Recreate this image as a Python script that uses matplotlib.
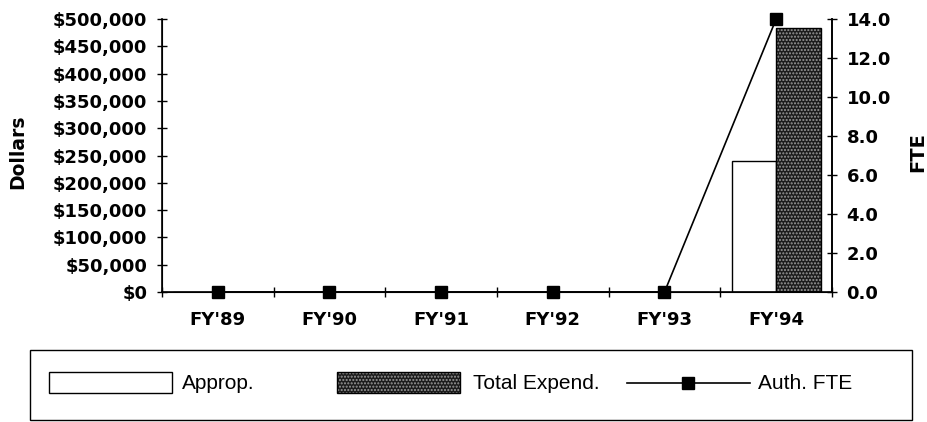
import matplotlib
matplotlib.use('Agg')
import matplotlib.pyplot as plt
from matplotlib.ticker import FuncFormatter, FixedLocator
from matplotlib.patches import Rectangle
from matplotlib.lines import Line2D

plt.rcParams['font.family'] = ['DejaVu Sans']

years = ["FY'89", "FY'90", "FY'91", "FY'92", "FY'93", "FY'94"]
approp = [0, 0, 0, 0, 0, 240000]
total_expend = [0, 0, 0, 0, 0, 483000]
auth_fte = [0, 0, 0, 0, 0, 14.0]

W, H = 927, 422
fig = plt.figure(figsize=(W / 100, H / 100), dpi=100)
ax = fig.add_axes([162 / W, 1 - 292 / H, 670 / W, 273 / H])

TICK_FS = 13
x = list(range(len(years)))
w = 0.4
dark = '#1c1c1c'
dots = '#9a9a9a'

# Approp. bars (white with black edge)
ax.bar([i - w / 2 for i in x], approp, width=w, facecolor='white',
       edgecolor='black', linewidth=1.0, zorder=2)
# Total Expend. bars: stippled dark fill, then a black outline on top
ax.bar([i + w / 2 for i in x], total_expend, width=w, facecolor=dark,
       edgecolor=dots, hatch='.....', linewidth=0, zorder=2)
ax.bar([i + w / 2 for i in x], total_expend, width=w, facecolor='none',
       edgecolor='black', linewidth=1.0, zorder=3)

ax.set_xlim(-0.5, len(years) - 0.5)
ax.set_ylim(0, 500000)
ax.set_yticks(range(0, 500001, 50000))
ax.yaxis.set_major_formatter(FuncFormatter(lambda v, p: f"${int(v):,}" if v else "$0"))
ax.set_xticks(x)
ax.set_xticklabels(years)
ax.xaxis.set_minor_locator(FixedLocator([i - 0.5 for i in range(len(years) + 1)]))
ax.tick_params(axis='x', which='major', length=0, pad=14)
ax.tick_params(axis='x', which='minor', direction='inout', length=7, width=1)
ax.tick_params(axis='y', direction='inout', length=7, width=1, pad=7)
for lab in ax.get_xticklabels() + ax.get_yticklabels():
    lab.set_fontweight('bold')
    lab.set_fontsize(TICK_FS)
ax.set_ylabel('Dollars', fontsize=13.5, fontweight='bold')
ax.yaxis.set_label_coords(-135 / 670, 0.513)
ax.spines['top'].set_visible(False)
for s in ['left', 'bottom', 'right']:
    ax.spines[s].set_linewidth(1.2)

ax2 = ax.twinx()
ax2.plot(x, auth_fte, color='black', linewidth=1.2, marker='s',
         markersize=9, zorder=5, clip_on=False)
ax2.set_ylim(0, 14)
ax2.set_yticks([i * 2.0 for i in range(8)])
ax2.yaxis.set_major_formatter(FuncFormatter(lambda v, p: f"{v:.1f}"))
ax2.tick_params(axis='y', direction='inout', length=7, width=1, pad=7)
for lab in ax2.get_yticklabels():
    lab.set_fontweight('bold')
    lab.set_fontsize(TICK_FS)
ax2.set_ylabel('FTE', fontsize=14, fontweight='bold')
ax2.yaxis.set_label_coords(1 + 746 / 670 - 1, 0.513)
ax2.spines['top'].set_visible(False)
ax2.spines['right'].set_linewidth(1.2)

# legend box drawn in figure pixels
def fx(px):
    return px / W

def fy(py):
    return 1 - py / H

fig.add_artist(Rectangle((fx(30), fy(420)), (912 - 30) / W, 70 / H,
                         transform=fig.transFigure, facecolor='none',
                         edgecolor='black', linewidth=1.0))
y0, y1 = 372, 393
fig.add_artist(Rectangle((fx(49), fy(y1)), 123 / W, (y1 - y0) / H,
                         transform=fig.transFigure, facecolor='white',
                         edgecolor='black', linewidth=1.0))
fig.add_artist(Rectangle((fx(337), fy(y1)), 123 / W, (y1 - y0) / H,
                         transform=fig.transFigure, facecolor=dark,
                         edgecolor=dots, hatch='.....', linewidth=0))
fig.add_artist(Rectangle((fx(337), fy(y1)), 123 / W, (y1 - y0) / H,
                         transform=fig.transFigure, facecolor='none',
                         edgecolor='black', linewidth=1.0))
ymid = (y0 + y1) / 2
fig.add_artist(Line2D([fx(627), fx(750)], [fy(ymid), fy(ymid)],
                      transform=fig.transFigure, color='black', linewidth=1.2))
fig.add_artist(Line2D([fx(688)], [fy(ymid)], transform=fig.transFigure,
                      color='black', marker='s', markersize=9))
LEG_FS = 15
for px, label in [(182, 'Approp.'), (473, 'Total Expend.'), (758, 'Auth. FTE')]:
    fig.text(fx(px), fy(ymid + 1), label, fontsize=LEG_FS, va='center',
             ha='left', family=['Liberation Sans', 'DejaVu Sans'])

fig.savefig('out.png', dpi=100)
